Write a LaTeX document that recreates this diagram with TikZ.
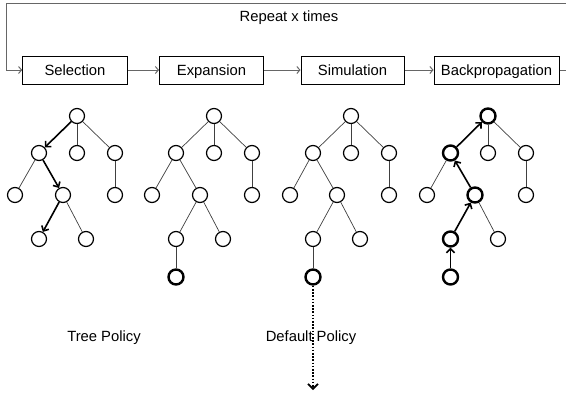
\documentclass[tikz,border=0pt]{standalone}
\usepackage{fontspec}
\setmainfont{Liberation Sans}
\usetikzlibrary{arrows.meta}

\begin{document}
\begin{tikzpicture}[x=1pt,y=-1pt,
  every node/.style={font=\fontsize{14.8}{17}\selectfont},
  stage/.style={draw, line width=1pt, minimum height=28pt, inner sep=0pt,
    text height=10.6pt, text depth=0pt},
  vert/.style={circle, draw, line width=1.2pt, minimum size=15pt, inner sep=0pt},
  hot/.style={vert, line width=2.4pt},
  link/.style={draw=black!75, line width=0.7pt},
  walk/.style={line width=1.6pt, -{Straight Barb[length=4pt,width=8pt]}},
  flow/.style={draw=black!60, line width=1pt, -{Straight Barb[length=3pt,width=7pt]}},
  rollout/.style={line width=2pt, dash pattern=on 1.6pt off 1.6pt,
    -{Straight Barb[length=5pt,width=10pt,line width=1.6pt]}},
]
\useasboundingbox (0,0) rectangle (566,394);
\clip (0,0) rectangle (566,394);

% the four stages of one iteration
\node[stage, minimum width=104.6pt] (sel) at (75,70) {Selection};
\node[stage, minimum width=104pt]   (exp) at (211.5,70) {Expansion};
\node[stage, minimum width=103pt]   (sim) at (352.5,70) {Simulation};
\node[stage, minimum width=125pt]   (bp)  at (496.5,70) {Backpropagation};

\draw[flow] (sel) -- (exp);
\draw[flow] (exp) -- (sim);
\draw[flow] (sim) -- (bp);

% feedback loop around the whole row
\coordinate (turnR) at (580,70);
\coordinate (turnL) at (6.5,3);
\draw[flow] (bp.east) -- (turnR) |- (turnL) |- (sel.west);
\node (rep) at (289,18) {Repeat x times};

% Selection tree
\begin{scope}[shift={(77,0)}]
  \node[vert] (sr) at (0,116) {};
  \node[vert] (sa) at (-38,153) {};
  \node[vert] (sb) at (0,153) {};
  \node[vert] (sc) at (38,153) {};
  \node[vert] (sd) at (-62,195) {};
  \node[vert] (se) at (-14,195) {};
  \node[vert] (sf) at (38,195) {};
  \node[vert] (sg) at (-38,239) {};
  \node[vert] (sh) at (9,239) {};
\end{scope}
\draw[walk] (sr) -- (sa);
\draw[link] (sr) -- (sb);
\draw[link] (sr) -- (sc);
\draw[link] (sa) -- (sd);
\draw[walk] (sa) -- (se);
\draw[link] (sc) -- (sf);
\draw[walk] (se) -- (sg);
\draw[link] (se) -- (sh);

% Expansion tree
\begin{scope}[shift={(214,0)}]
  \node[vert] (er) at (0,116) {};
  \node[vert] (ea) at (-38,153) {};
  \node[vert] (eb) at (0,153) {};
  \node[vert] (ec) at (38,153) {};
  \node[vert] (ed) at (-62,195) {};
  \node[vert] (ee) at (-14,195) {};
  \node[vert] (ef) at (38,195) {};
  \node[vert] (eg) at (-38,239) {};
  \node[vert] (eh) at (9,239) {};
  \node[hot]  (ei) at (-38,277) {};
\end{scope}
\draw[link] (er) -- (ea);
\draw[link] (er) -- (eb);
\draw[link] (er) -- (ec);
\draw[link] (ea) -- (ed);
\draw[link] (ea) -- (ee);
\draw[link] (ec) -- (ef);
\draw[link] (ee) -- (eg);
\draw[link] (ee) -- (eh);
\draw[link] (eg) -- (ei);

% Simulation tree
\begin{scope}[shift={(351,0)}]
  \node[vert] (mr) at (0,116) {};
  \node[vert] (ma) at (-38,153) {};
  \node[vert] (mb) at (0,153) {};
  \node[vert] (mc) at (38,153) {};
  \node[vert] (md) at (-61,195) {};
  \node[vert] (me) at (-14,195) {};
  \node[vert] (mf) at (38,195) {};
  \node[vert] (mg) at (-38,239) {};
  \node[vert] (mh) at (9,239) {};
  \node[hot]  (mi) at (-38,277) {};
  \coordinate (mend) at (-38,390);
\end{scope}
\draw[link] (mr) -- (ma);
\draw[link] (mr) -- (mb);
\draw[link] (mr) -- (mc);
\draw[link] (ma) -- (md);
\draw[link] (ma) -- (me);
\draw[link] (mc) -- (mf);
\draw[link] (me) -- (mg);
\draw[link] (me) -- (mh);
\draw[link] (mg) -- (mi);
\draw[rollout] (mi) -- (mend);

% Backpropagation tree
\begin{scope}[shift={(488,0)}]
  \node[hot]  (br) at (0,116) {};
  \node[hot]  (ba) at (-37.5,153) {};
  \node[vert] (bb) at (0,153) {};
  \node[vert] (bc) at (38,153) {};
  \node[vert] (bd) at (-61,195) {};
  \node[hot]  (be) at (-13,195) {};
  \node[vert] (bf) at (38,195) {};
  \node[hot]  (bg) at (-37.5,239) {};
  \node[vert] (bh) at (10,239) {};
  \node[hot]  (bi) at (-37.5,277) {};
\end{scope}
\draw[walk] (ba) -- (br);
\draw[link] (br) -- (bb);
\draw[link] (br) -- (bc);
\draw[link] (ba) -- (bd);
\draw[walk] (be) -- (ba);
\draw[link] (bc) -- (bf);
\draw[walk] (bg) -- (be);
\draw[link] (be) -- (bh);
\draw[walk] (bi) -- (bg);

% policy labels
\node (tp) at (104,338) {Tree Policy};
\node (dp) at (311,338) {Default Policy};
\end{tikzpicture}
\end{document}
